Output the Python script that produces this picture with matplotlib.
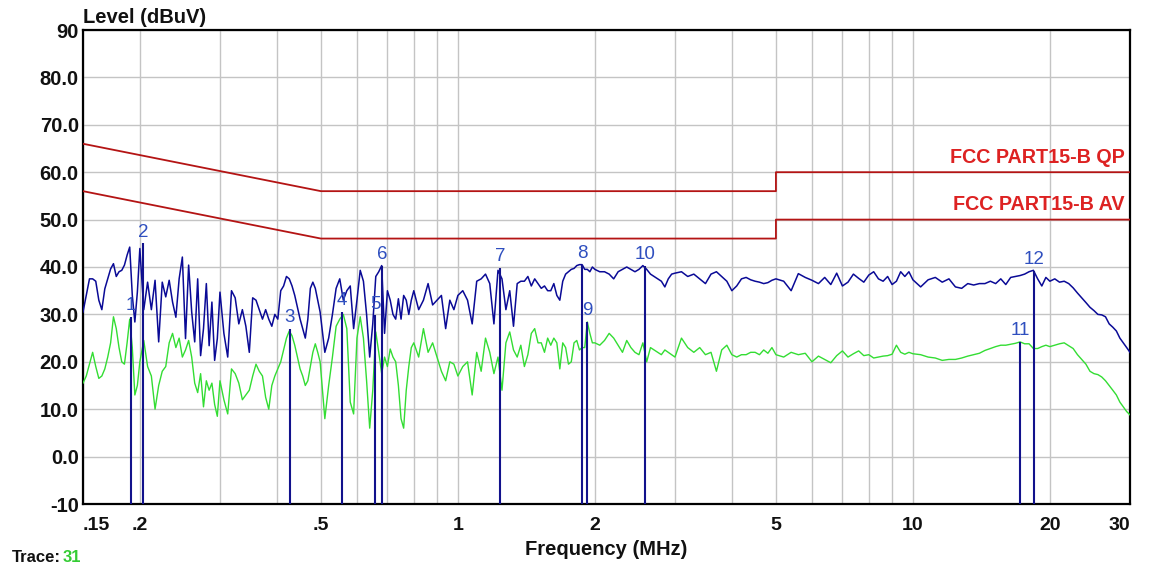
import matplotlib
matplotlib.use("Agg")
import matplotlib.pyplot as plt
from matplotlib.ticker import FixedLocator, NullFormatter

plt.rcParams['font.family'] = ['Liberation Sans', 'DejaVu Sans']

# frequency sweep (MHz)
freq_a = [0.150, 0.1525, 0.155, 0.1575, 0.160, 0.1625, 0.165, 0.1675, 0.170, 0.1725,
          0.175, 0.1775, 0.180, 0.1825, 0.185, 0.1875, 0.190, 0.1925, 0.195, 0.1975, 0.200]
freq_b = [0.204, 0.208, 0.212, 0.216, 0.220, 0.224, 0.228, 0.232, 0.236, 0.240, 0.244,
          0.248, 0.252, 0.256, 0.260, 0.264, 0.268, 0.272, 0.276, 0.280, 0.284, 0.288,
          0.292, 0.296, 0.300]
freq_c = [0.306, 0.312, 0.318, 0.324, 0.330, 0.336, 0.342, 0.348, 0.354, 0.360, 0.366,
          0.372, 0.378, 0.384, 0.390, 0.396, 0.402, 0.408, 0.414, 0.420, 0.426, 0.432,
          0.438, 0.444, 0.450, 0.456, 0.462, 0.468, 0.474, 0.480, 0.486, 0.492, 0.498]
freq_d = [0.51, 0.52, 0.53, 0.54, 0.55, 0.56, 0.57, 0.58, 0.59, 0.60, 0.61, 0.62, 0.63,
          0.64, 0.65, 0.66, 0.67, 0.68, 0.69, 0.70, 0.71, 0.72, 0.73, 0.74, 0.75, 0.76,
          0.77, 0.78, 0.79, 0.80, 0.82, 0.84, 0.86, 0.88, 0.90, 0.92, 0.94, 0.96, 0.98, 1.00]
freq_e = [1.025, 1.05, 1.075, 1.10, 1.125, 1.15, 1.175, 1.20, 1.225, 1.25, 1.275, 1.30,
          1.325, 1.35, 1.375, 1.40, 1.425, 1.45, 1.475, 1.50, 1.525, 1.55, 1.575, 1.60,
          1.625, 1.65, 1.675, 1.70, 1.725, 1.75, 1.775, 1.80, 1.825, 1.85, 1.875, 1.90,
          1.925, 1.95, 1.975, 2.00]
freq_f = [2.05, 2.10, 2.15, 2.20, 2.25, 2.30, 2.35, 2.40, 2.45, 2.50, 2.55, 2.60, 2.65,
          2.70, 2.75, 2.80, 2.85, 2.90, 2.95, 3.00, 3.1, 3.2, 3.3, 3.4, 3.5, 3.6, 3.7,
          3.8, 3.9, 4.0, 4.1, 4.2, 4.3, 4.4, 4.5, 4.6, 4.7, 4.8, 4.9, 5.0]
freq_g = [5.2, 5.4, 5.6, 5.8, 6.0, 6.2, 6.4, 6.6, 6.8, 7.0, 7.2, 7.4, 7.6, 7.8, 8.0,
          8.2, 8.4, 8.6, 8.8, 9.0, 9.2, 9.4, 9.6, 9.8, 10.0]
freq_h = [10.4, 10.8, 11.2, 11.6, 12.0, 12.4, 12.8, 13.2, 13.6, 14.0, 14.4, 14.8, 15.2,
          15.6, 16.0, 16.4, 16.8, 17.2, 17.6, 18.0, 18.4, 18.8, 19.2, 19.6, 20.0]
freq_i = [20.5, 21.0, 21.5, 22.0, 22.5, 23.0, 23.5, 24.0, 24.5, 25.0, 25.5, 26.0, 26.5,
          27.0, 27.5, 28.0, 28.5, 29.0, 29.5, 30.0]

# QP trace (blue), dBuV
qp_a = [30.5, 34, 37.5, 37.5, 37, 33, 31, 35.4, 37.5, 39.6, 40.7, 38, 39, 39.3, 40.4,
        42.5, 44.2, 34, 28.4, 34.7, 43.9]
qp_b = [31, 36.8, 31, 37.2, 24.2, 36.8, 33.7, 37.2, 32.6, 29.4, 37.5, 42.1, 24.9, 40.4,
        30.5, 24.2, 37.5, 21.3, 27, 36.5, 23.4, 32.6, 20.3, 24.9, 34.7]
qp_c = [26, 21, 35, 33.5, 28, 31, 27.5, 22, 33.5, 33, 31, 29, 31, 29, 27.5, 30, 29, 35,
        36, 38, 37.5, 36, 34, 31.5, 29, 27, 25, 29, 35.5, 36.8, 35.5, 33, 30.5]
qp_d = [22, 25, 30, 35.5, 37.5, 33, 35, 36, 27, 33, 39.3, 37, 30, 21, 28, 38, 39, 40.3,
        26, 35, 33, 30, 29, 33.3, 29, 34, 33, 30, 33, 35, 31, 33, 36.5, 32, 33, 34, 27,
        33, 31, 34]
qp_e = [35, 33, 28, 37, 37.5, 38.5, 36.5, 28, 39.3, 37.5, 31, 35, 27.5, 36.5, 37, 37,
        38, 36, 37.5, 36.5, 35.5, 36, 35, 35, 36.5, 34, 33, 37, 38.5, 39, 39.5, 39.7,
        40.3, 40.5, 40.5, 39.5, 39.5, 39, 40, 39.5]
qp_f = [39, 39, 38.5, 37.5, 39, 39.5, 40, 39.5, 39, 39.5, 40.3, 39.5, 38.5, 38, 37.5,
        37, 35.8, 37.5, 38.5, 38.7, 39, 38, 38.5, 37.5, 36.5, 38.5, 39, 38, 37, 35, 36,
        37.5, 37.8, 37.3, 37, 36.8, 36.5, 36.7, 37.2, 37.5]
qp_g = [37, 35, 38.6, 37.8, 37.2, 36.5, 37.8, 36.3, 38.7, 36, 36.8, 38.5, 37.6, 36.8,
        38.3, 39, 37.5, 37, 38, 36.3, 37, 39, 38, 39, 37.3]
qp_h = [35.8, 37.3, 37.8, 36.8, 37.5, 35.8, 35.5, 36.5, 36.2, 36.5, 36.5, 37, 36.5,
        37.5, 36.3, 37.8, 38, 38.2, 38.5, 39, 39.3, 37.5, 36, 37.8, 37]
qp_i = [37.5, 36.8, 37, 36.5, 35.6, 34.5, 33.5, 32.5, 31.5, 30.8, 30, 29.9, 29.5, 28,
        27.3, 26.5, 25, 24, 23, 22]

# AV trace (green), dBuV
av_a = [15.5, 17, 19.5, 22, 19, 16.5, 17, 18.5, 21, 24, 29.5, 27, 23, 20, 19.5, 24, 29,
        23, 13, 15, 20]
av_b = [24.5, 19, 17, 10, 15, 18, 19, 24, 26, 23, 25, 21, 22.5, 24.5, 21, 15.5, 13.5,
        17.5, 10.5, 16, 14, 15.5, 11, 8.5, 16]
av_c = [12, 9, 18.5, 17.5, 15.5, 12, 13, 14, 17, 19.5, 18, 17, 12.5, 10, 15, 17, 18.5,
        20, 22.5, 25, 26.5, 25.5, 23.5, 21, 18.5, 17, 15, 16, 19, 22, 23.8, 22, 20]
av_d = [8, 15, 21, 27.5, 29, 30, 27, 11.5, 9, 25, 29.5, 25, 16, 6, 14, 26.3, 22, 17.5,
        21, 19, 22.7, 21, 20, 15, 8, 6, 14, 19, 23, 24, 21, 27, 22, 24, 21, 18, 16, 20,
        19.5, 17]
av_e = [19, 20, 13, 22, 18, 25, 22, 17.5, 21, 14, 24, 26.3, 22.5, 21, 23.5, 19, 21.5,
        26, 27, 24, 24, 22, 25, 23.5, 25, 24, 18.5, 24, 23, 19.5, 20, 24, 24.5, 22.5,
        23, 23, 28.4, 26, 24, 24]
av_f = [23.5, 24.5, 26, 25, 23.5, 22, 24.5, 23, 22, 21.5, 24, 20, 23, 22.5, 22, 21.5,
        22.5, 22, 21.5, 21, 25, 23, 22, 23, 21.5, 22, 18, 22.5, 23.5, 21.5, 21, 21.5,
        21.5, 22, 22, 21.5, 22.5, 21.8, 23, 21.5]
av_g = [21, 22, 21.5, 21.8, 20, 21.2, 20.5, 19.8, 21.3, 22.3, 21, 21.7, 22.3, 21.3,
        21.5, 20.8, 21, 21.2, 21.3, 21.6, 23.5, 22, 21.6, 22, 21.7]
av_h = [21.5, 21, 20.8, 20.3, 20.5, 20.5, 20.8, 21.2, 21.5, 21.8, 22.4, 22.8, 23.2,
        23.5, 23.5, 23.7, 23.9, 24.2, 23.8, 23.8, 22.8, 22.8, 23.2, 23.5, 23.2]
av_i = [23.5, 23.8, 24, 23.4, 22.8, 21.5, 20.5, 19.5, 18, 17.5, 17.3, 16.8, 16, 15, 14,
        13, 11.5, 10.5, 9.5, 8.8]

freq_mhz = freq_a + freq_b + freq_c + freq_d + freq_e + freq_f + freq_g + freq_h + freq_i
qp_dbuv = qp_a + qp_b + qp_c + qp_d + qp_e + qp_f + qp_g + qp_h + qp_i
av_dbuv = av_a + av_b + av_c + av_d + av_e + av_f + av_g + av_h + av_i

# FCC Part 15 class B limits
qp_limit_mhz = [0.15, 0.5, 0.5, 5, 5, 30]
qp_limit_dbuv = [66, 56, 56, 56, 60, 60]
av_limit_mhz = [0.15, 0.5, 0.5, 5, 5, 30]
av_limit_dbuv = [56, 46, 46, 46, 50, 50]

# peak markers 1..12
marker_mhz = [0.191, 0.2034, 0.4276, 0.557, 0.658, 0.682, 1.237, 1.876, 1.921, 2.58, 17.2, 18.5]
marker_dbuv = [29.5, 45.0, 27.0, 30.5, 29.8, 40.3, 39.8, 40.4, 28.4, 40.3, 24.2, 39.2]

x_ticks = [0.15, 0.2, 0.5, 1, 2, 5, 10, 20, 30]
x_tick_labels = ['.15', '.2', '.5', '1', '2', '5', '10', '20', '30']
x_grid_minor = [0.3, 0.4, 0.6, 0.7, 0.8, 0.9, 3, 4, 6, 7, 8, 9]
y_ticks = [-10, 0, 10, 20, 30, 40, 50, 60, 70, 80, 90]
y_tick_labels = ['-10', '0.0', '10.0', '20.0', '30.0', '40.0', '50.0', '60.0', '70.0', '80.0', '90']

fig = plt.figure(figsize=(11.55, 5.66), dpi=100)
ax = fig.add_axes([83 / 1155, 62 / 566, 1047 / 1155, 474 / 566])

ax.set_xscale('log')
ax.set_xlim(0.15, 30)
ax.set_ylim(-10, 90)

ax.xaxis.set_major_locator(FixedLocator(x_ticks))
ax.xaxis.set_minor_locator(FixedLocator(x_grid_minor))
ax.xaxis.set_minor_formatter(NullFormatter())
ax.set_xticks(x_ticks)
ax.set_xticklabels(x_tick_labels)
ax.set_yticks(y_ticks)
ax.set_yticklabels(y_tick_labels)
ax.tick_params(which='both', length=0)
ax.tick_params(axis='x', pad=9, labelsize=14)
ax.tick_params(axis='y', pad=3, labelsize=14.5)
for lab in ax.get_xticklabels() + ax.get_yticklabels():
    lab.set_fontweight('bold')
    lab.set_color('#111111')
xl = ax.get_xticklabels()
xl[0].set_horizontalalignment('left')
xl[-1].set_horizontalalignment('right')

ax.grid(True, which='both', color='#c4c4c4', linewidth=1.0)
ax.set_axisbelow(True)
for s in ax.spines.values():
    s.set_color('black')
    s.set_linewidth(1.6)

ax.plot(freq_mhz, av_dbuv, color='#33dd33', linewidth=1.0, zorder=3)
ax.plot(freq_mhz, qp_dbuv, color='#0a0a96', linewidth=1.1, zorder=4)

ax.plot(qp_limit_mhz, qp_limit_dbuv, color='#b41414', linewidth=1.3, zorder=5)
ax.plot(av_limit_mhz, av_limit_dbuv, color='#b41414', linewidth=1.3, zorder=5)
ax.text(29.2, 61.2, 'FCC PART15-B QP', color='#dd2222', fontsize=14.2, fontweight='bold',
        ha='right', va='bottom', zorder=6)
ax.text(29.2, 51.2, 'FCC PART15-B AV', color='#dd2222', fontsize=14.2, fontweight='bold',
        ha='right', va='bottom', zorder=6)

ax.vlines(marker_mhz, -10, marker_dbuv, color='#12128c', linewidth=1.5, zorder=5)
for i, (f, v) in enumerate(zip(marker_mhz, marker_dbuv)):
    ax.annotate(str(i + 1), (f, v), xytext=(0, 2), textcoords='offset points',
                ha='center', va='bottom', fontsize=13.5, color='#2f4fbf', zorder=7)

fig.text(83 / 1155, 1 - 23 / 566, 'Level (dBuV)', fontsize=14.5, fontweight='bold',
         color='#111111', ha='left', va='baseline')
fig.text(606 / 1155, 1 - 555 / 566, 'Frequency (MHz)', fontsize=14.5, fontweight='bold',
         color='#111111', ha='center', va='baseline')
fig.text(12 / 1155, 1 - 550 / 566, 'Trace:', fontsize=12, fontweight='bold',
         color='#111111', ha='left', va='top')
fig.text(63 / 1155, 1 - 550 / 566, '31', fontsize=12, fontweight='bold',
         color='#33cc33', ha='left', va='top')

fig.savefig('out.png', dpi=100)
